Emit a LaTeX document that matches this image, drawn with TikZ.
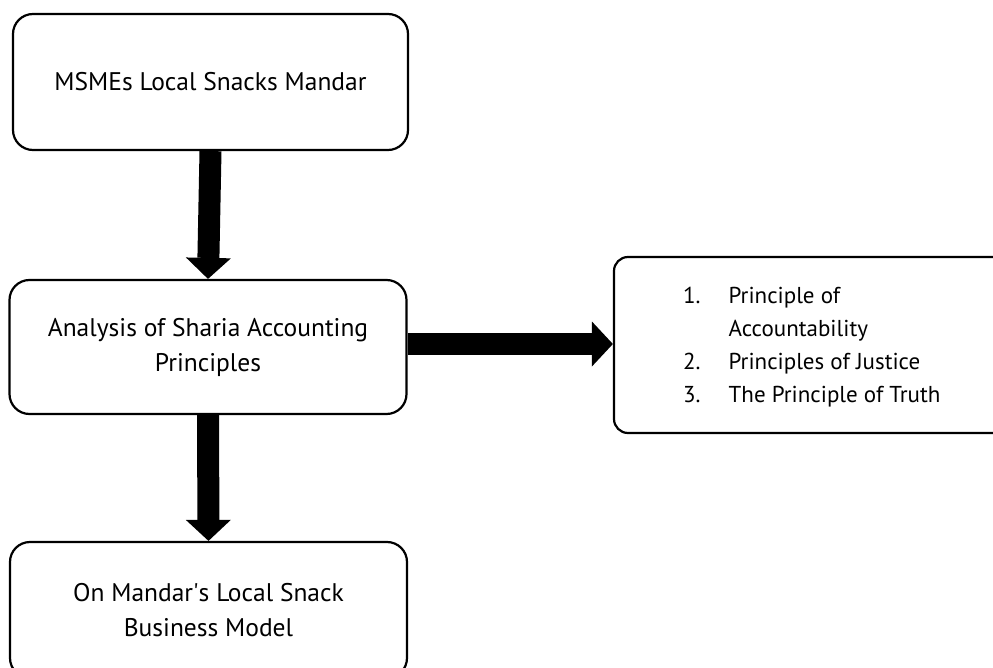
\documentclass[tikz,border=0pt]{standalone}
\usepackage{fontspec}
\setmainfont{PT Sans}
\usetikzlibrary{arrows.meta}
\tikzset{
  box/.style={draw=black, line width=2.2pt, rounded corners=20pt, align=center, inner sep=0pt, font=\fontsize{25.5}{35}\selectfont},
  bigarrow/.style={line width=22pt, -{Triangle[width=45pt,length=21pt,line width=0pt]}},
}
\begin{document}
\begin{tikzpicture}[x=1pt,y=-1pt]
\useasboundingbox (0,0) rectangle (993,668);
\clip (0,0) rectangle (993,668);
\node[box, minimum width=395pt, minimum height=136pt] (b1) at (210.5,82) {MSMEs Local Snacks Mandar};
\node[box, minimum width=397pt, minimum height=134pt] (b2) at (208,347) {Analysis of Sharia Accounting\\Principles};
\node[box, minimum width=397pt, minimum height=136pt] (b3) at (208.5,610) {On Mandar\textquotesingle s Local Snack\\Business Model};
\node[box, rounded corners=14pt, minimum width=400pt, minimum height=176pt] (b4) at (814,345) {};
\node[anchor=north west, inner sep=0pt, font=\fontsize{23}{33}\selectfont, align=left] (list) at (683,280)
  {\begin{tabular}{@{}l@{\hspace{28pt}}l@{}}1. & Principle of\\ & Accountability\\ 2. & Principles of Justice\\ 3. & The Principle of Truth\end{tabular}};
\draw[bigarrow] (b1.south) -- (b2.north);
\draw[bigarrow] (b2.south) -- (b3.north);
\draw[bigarrow] (b2.east |- 0,344) -- (b4.west |- 0,344);
\end{tikzpicture}
\end{document}
